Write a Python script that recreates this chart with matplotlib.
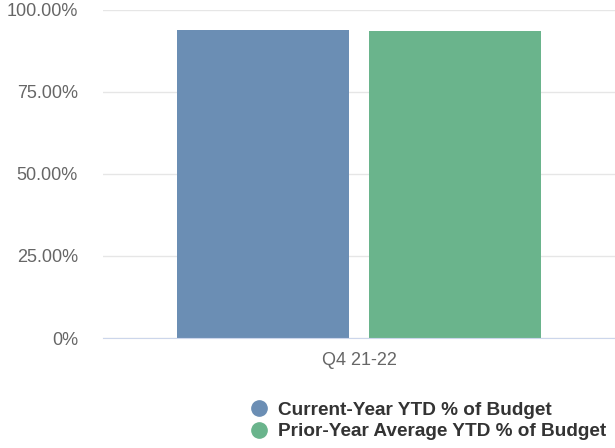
import matplotlib.pyplot as plt
from matplotlib.lines import Line2D
from matplotlib.ticker import FixedLocator, FixedFormatter

plt.rcParams['font.family'] = ['Liberation Sans', 'DejaVu Sans']

category = ["Q4 21-22"]
series_names = ["Current-Year YTD % of Budget", "Prior-Year Average YTD % of Budget"]
series_values = [93.9, 93.5]
colors = ["#6b8eb4", "#6ab48c"]
y_ticks = [0, 25, 50, 75, 100]
y_tick_labels = ["0%", "25.00%", "50.00%", "75.00%", "100.00%"]

fig = plt.figure(figsize=(6.15, 4.48), dpi=100)
ax = fig.add_axes([103 / 615, 110 / 448, 512 / 615, 328 / 448])

bar_w = 0.334
offsets = [-0.1875, 0.1875]
for val, off, col in zip(series_values, offsets, colors):
    ax.bar(0 + off, val, width=bar_w, color=col, zorder=2)

ax.set_xlim(-0.5, 0.5)
ax.set_ylim(0, 100)
ax.yaxis.set_major_locator(FixedLocator(y_ticks))
ax.yaxis.set_major_formatter(FixedFormatter(y_tick_labels))
ax.set_xticks([0])
ax.set_xticklabels(category)

ax.grid(axis='y', color='#e6e6e6', linewidth=1, zorder=0)
for s in ['top', 'right', 'left']:
    ax.spines[s].set_visible(False)
ax.spines['bottom'].set_color('#ccd6eb')
ax.spines['bottom'].set_zorder(3)
ax.tick_params(axis='y', length=0, pad=18, labelsize=13, labelcolor='#666666')
ax.tick_params(axis='x', length=0, pad=10, labelsize=13, labelcolor='#666666')

handles = [Line2D([], [], marker='o', linestyle='none', markersize=11,
                  markerfacecolor=c, markeredgecolor=c) for c in colors]
fig.legend(handles, series_names, loc='center left', bbox_to_anchor=(241 / 615, 1 - 421 / 448),
           frameon=False, handletextpad=0.55, labelspacing=0.2, handlelength=0.9,
           prop={'size': 13.7, 'weight': 'bold'}, labelcolor='#333333', borderpad=0)

fig.savefig("out.png", dpi=100)
